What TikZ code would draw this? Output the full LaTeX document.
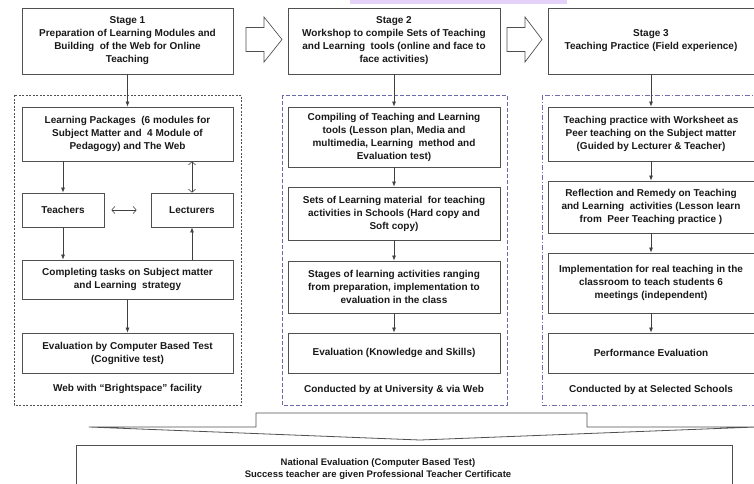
\documentclass[tikz,border=0pt]{standalone}
\usepackage{fontspec}
\setmainfont{Liberation Sans}
\usetikzlibrary{arrows.meta,positioning}

\definecolor{boxgray}{HTML}{505050}
\definecolor{arrgray}{HTML}{404040}
\definecolor{frameblue}{HTML}{6A6AAA}
\definecolor{framepurple}{HTML}{7A6AAA}
\definecolor{lavender}{HTML}{E4D2F8}

\begin{document}
\begin{tikzpicture}[x=1pt,y=-1pt,
  font=\bfseries\fontsize{10}{13}\selectfont]

\tikzset{
  box/.style={draw=boxgray, line width=0.8pt, align=center, inner sep=1pt,
    text=black!90},
  colbox/.style={box, minimum width=211pt},
  lbl/.style={align=center, text=black!90},
  arr/.style={draw=arrgray, line width=0.7pt, -{Latex[length=5pt,width=4pt]}},
  dbl/.style={draw=arrgray, line width=0.6pt,
    {Straight Barb[length=3pt,width=7pt]}-{Straight Barb[length=3pt,width=7pt]}},
  blockarr/.style={draw=boxgray, line width=0.7pt, fill=white}
}

\useasboundingbox (0,0) rectangle (754,483);
\clip (0,0) rectangle (754,483);
\fill[lavender] (350,0) rectangle (567,3.5);

% dashed frames round the three columns
\draw[boxgray, line width=0.6pt, dash pattern=on 2pt off 1.5pt] (14,95) rectangle (241,405);
\draw[frameblue, line width=0.7pt, dash pattern=on 4pt off 2pt] (282,95) rectangle (507,405);
\draw[framepurple, line width=0.7pt, dash pattern=on 5pt off 2pt on 1pt off 2pt] (542,95) rectangle (756,405);

% Stage 1
\node[colbox, minimum height=66pt] (stage1) at (127.5,41) {Stage 1\\Preparation of Learning Modules and\\Building\ \ of the Web for Online\\Teaching};
\node[colbox, minimum height=54pt] (lp) at (127.5,134) {Learning Packages\ \ (6 modules for\\Subject Matter and\ \ 4 Module of\\Pedagogy) and The Web};
\node[box, minimum width=82pt, minimum height=34pt] (teach) at (63,210) {Teachers};
\node[box, minimum width=82pt, minimum height=34pt] (lect) at (192,210) {Lecturers};
\node[colbox, minimum height=39pt] (comp) at (127.5,279.5) {Completing tasks on Subject matter\\and Learning\ \ strategy};
\node[colbox, minimum height=40pt] (cbt) at (127.5,353) {Evaluation by Computer Based Test\\(Cognitive test)};
\node[lbl] (web) at (127.5,389) {Web with “Brightspace” facility};

\draw[arr] (stage1) -- (lp);
\draw[arr] (lp.south -| teach) -- (teach);
\draw[dbl] (lp.south -| lect) -- (lect);
\draw[dbl, shorten <=7pt, shorten >=14pt] (teach) -- (lect);
\draw[arr] (teach) -- (teach |- comp.north);
\draw[arr] (comp.north -| lect) -- (lect);
\draw[arr] (comp) -- (cbt);

% Stage 2
\node[colbox, minimum width=212pt, minimum height=66pt] (stage2) at (394,41) {Stage 2\\Workshop to compile Sets of Teaching\\and Learning\ \ tools (online and face to\\face activities)};
\node[colbox, minimum width=212pt, minimum height=60pt] (tools) at (394,137) {Compiling of Teaching and Learning\\tools (Lesson plan, Media and\\multimedia, Learning\ \ method and\\Evaluation test)};
\node[colbox, minimum width=212pt, minimum height=53pt] (sets) at (394,213.5) {Sets of Learning material\ \ for teaching\\activities in Schools (Hard copy and\\Soft copy)};
\node[colbox, minimum width=212pt, minimum height=52pt] (range) at (394,287) {Stages of learning activities ranging\\from preparation, implementation to\\evaluation in the class};
\node[colbox, minimum width=212pt, minimum height=40pt] (skills) at (394,353) {Evaluation (Knowledge and Skills)};
\node[lbl] (univ) at (394,390) {Conducted by at University \& via Web};

\draw[arr] (stage2) -- (tools);
\draw[arr] (tools) -- (sets);
\draw[arr] (sets) -- (range);
\draw[arr] (range) -- (skills);

% Stage 3
\node[colbox, minimum width=206pt, minimum height=66pt] (stage3) at (651,41) {Stage 3\\Teaching Practice (Field experience)};
\node[colbox, minimum width=206pt, minimum height=54pt] (peer) at (651,134) {Teaching practice with Worksheet as\\Peer teaching on the Subject matter\\(Guided by Lecturer \& Teacher)};
\node[colbox, minimum width=206pt, minimum height=52pt] (remedy) at (651,207) {Reflection and Remedy on Teaching\\and Learning\ \ activities (Lesson learn\\from\ \ Peer Teaching practice )};
\node[colbox, minimum width=206pt, minimum height=60pt] (real) at (651,283) {Implementation for real teaching in the\\classroom to teach students 6\\meetings (independent)};
\node[colbox, minimum width=206pt, minimum height=40pt] (perf) at (651,353) {Performance Evaluation};
\node[lbl] (school) at (651,390) {Conducted by at Selected Schools};

\draw[arr] (stage3) -- (peer);
\draw[arr] (peer) -- (remedy);
\draw[arr] (remedy) -- (real);
\draw[arr] (real) -- (perf);

% block arrows between the stages
\draw[blockarr] (246,27.5) -- (264,27.5) -- (264,17) -- (282,39.5) -- (264,62)
  -- (264,51.5) -- (246,51.5) -- cycle;
\draw[blockarr] (507,27.5) -- (525,27.5) -- (525,17) -- (542,39.5) -- (525,62)
  -- (525,51.5) -- (507,51.5) -- cycle;

% wide arrow down to the national evaluation
\draw[boxgray, line width=0.8pt, fill=white] (256,413) -- (587,413) -- (587,427)
  -- (756,427) -- (420,440) -- (89,427) -- (256,427) -- cycle;
\node[box, minimum width=656pt, minimum height=50pt, anchor=north] (nat) at (404,445) {};
\node[lbl, font=\bfseries\fontsize{9.5}{12}\selectfont] (nattext) at (378,469) {National Evaluation (Computer Based Test)\\Success teacher are given Professional Teacher Certificate};

\end{tikzpicture}
\end{document}
